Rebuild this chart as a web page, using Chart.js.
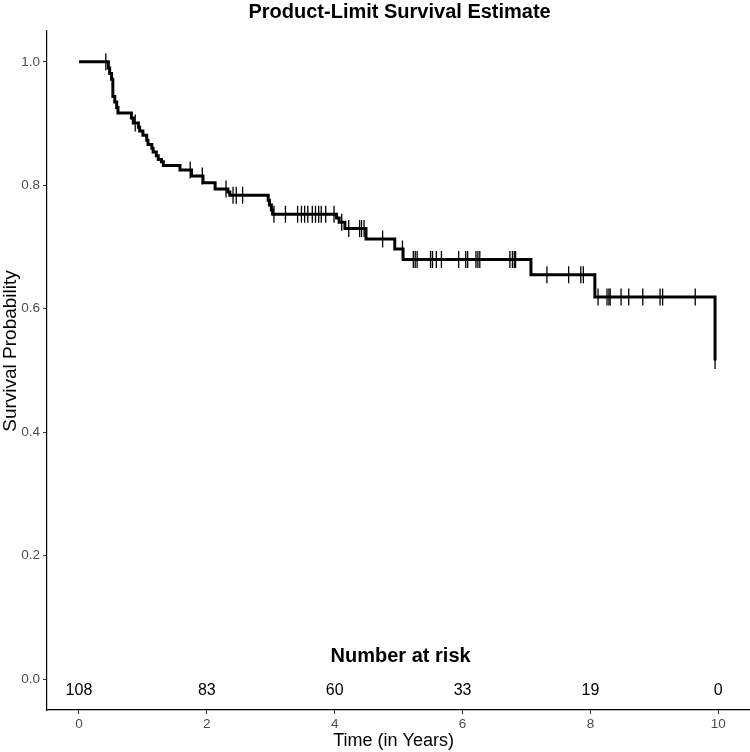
<!DOCTYPE html>
<html>
<head>
<meta charset="utf-8">
<title>Product-Limit Survival Estimate</title>
<script src="https://cdn.jsdelivr.net/npm/chart.js@4.4.1/dist/chart.umd.min.js"></script>
<style>
  html, body { margin: 0; padding: 0; background: #fff; overflow: hidden; }
  /* canvas is 10px wider than the view so the plot panel reaches the right edge */
  #wrap { width: 750px; height: 752px; overflow: hidden; }
</style>
</head>
<body>
<div id="wrap"><canvas id="km" width="760" height="752"></canvas></div>
<script>
  // KM step points: time (years) and survival after the event at that time
  var stepTimes = [0, 0.46, 0.48, 0.51, 0.53, 0.56, 0.59, 0.61,
    0.82, 0.85, 0.93, 0.95, 1.00, 1.06, 1.08, 1.14, 1.16, 1.21, 1.24, 1.29, 1.32,
    1.58, 1.76, 1.94, 2.13, 2.33, 2.36,
    2.96, 2.98, 3.01, 3.03,
    4.03, 4.07, 4.16, 4.49, 4.94, 5.07, 7.07, 8.07, 9.95];
  var stepSurv = [1.0, 0.990, 0.981, 0.972, 0.944, 0.935, 0.926, 0.917,
    0.909, 0.901, 0.894, 0.888, 0.881, 0.873, 0.866, 0.860, 0.854, 0.848, 0.842, 0.838, 0.832,
    0.825, 0.815, 0.804, 0.794, 0.789, 0.784,
    0.776, 0.768, 0.760, 0.753,
    0.747, 0.740, 0.730, 0.713, 0.697, 0.680, 0.655, 0.619, 0.516];

  // censored observations (years)
  var censorTimes = [0.42, 0.88, 1.74, 1.93, 2.30, 2.41, 2.46, 2.56,
    3.05, 3.23, 3.42, 3.48, 3.53, 3.58, 3.65, 3.70, 3.75, 3.79, 3.86, 3.99,
    4.11, 4.22, 4.39, 4.42, 4.46, 4.75, 5.06,
    5.23, 5.26, 5.29, 5.50, 5.53, 5.59, 5.67, 5.94, 6.05, 6.08, 6.21, 6.24, 6.27,
    6.74, 6.78, 6.81, 6.83,
    7.32, 7.66, 7.85, 7.89,
    8.12, 8.26, 8.29, 8.31, 8.48, 8.60, 8.82, 9.09, 9.13, 9.64, 9.95];

  var riskTimes = [0, 2, 4, 6, 8, 10];
  var riskCounts = [108, 83, 60, 33, 19, 0];
  var xTicks = [0, 2, 4, 6, 8, 10];
  var yTicks = [0, 0.2, 0.4, 0.6, 0.8, 1.0];

  var FONT = '"Liberation Sans", Arial, Helvetica, sans-serif';

  function survAt(t) {
    var s = 1;
    for (var i = 0; i < stepTimes.length; i++) {
      if (stepTimes[i] <= t) s = stepSurv[i];
    }
    return s;
  }

  var textPlugin = {
    id: 'kmText',
    afterDraw: function (chart) {
      var ctx = chart.ctx;
      var area = chart.chartArea;
      var xs = chart.scales.x;
      var cx = (area.left + area.right) / 2;
      ctx.save();
      ctx.fillStyle = '#000';
      ctx.textAlign = 'center';
      ctx.textBaseline = 'middle';

      ctx.font = 'bold 20px ' + FONT;
      ctx.fillText('Product-Limit Survival Estimate', cx + 1, 12);
      ctx.fillText('Number at risk', cx + 2, area.bottom - 54);

      ctx.font = '16px ' + FONT;
      riskTimes.forEach(function (t, i) {
        ctx.fillText(String(riskCounts[i]), xs.getPixelForValue(t), area.bottom - 19);
      });

      ctx.font = '18px ' + FONT;
      ctx.fillText('Time (in Years)', cx - 5, 741);

      ctx.font = '19px ' + FONT;
      ctx.translate(11, 351);
      ctx.rotate(-Math.PI / 2);
      ctx.fillText('Survival Probability', 0, 0);
      ctx.restore();
    }
  };

  new Chart(document.getElementById('km'), {
    type: 'scatter',
    data: {
      datasets: [{
        type: 'line',
        label: 'KM',
        data: stepTimes.map(function (t, i) { return { x: t, y: stepSurv[i] }; }),
        stepped: true,
        borderColor: '#000',
        borderWidth: 3,
        pointRadius: 0,
        fill: false
      }, {
        type: 'scatter',
        label: 'Censored',
        data: censorTimes.map(function (t) { return { x: t, y: survAt(t) }; }),
        pointStyle: 'line',
        rotation: 90,
        radius: 8.5,
        borderColor: '#000',
        borderWidth: 1.3
      }]
    },
    options: {
      responsive: false,
      animation: false,
      layout: { padding: { top: 31, right: 0, bottom: 0, left: 0 } },
      plugins: { legend: { display: false }, tooltip: { enabled: false } },
      scales: {
        x: {
          type: 'linear',
          min: -0.5,
          max: 10.5,
          afterBuildTicks: function (s) { s.ticks = xTicks.map(function (v) { return { value: v }; }); },
          afterFit: function (s) { s.height = 42; },
          ticks: { color: '#4d4d4d', font: { size: 13.5, family: FONT }, padding: 2, maxRotation: 0, autoSkip: false },
          grid: { drawOnChartArea: false, drawTicks: true, tickLength: 4, color: '#333' },
          border: { color: '#000', width: 1.2 }
        },
        y: {
          type: 'linear',
          min: -0.05,
          max: 1.05,
          afterBuildTicks: function (s) { s.ticks = yTicks.map(function (v) { return { value: v }; }); },
          afterFit: function (s) { s.width = 47; },
          ticks: {
            color: '#4d4d4d', font: { size: 13.5, family: FONT }, padding: 3, autoSkip: false,
            callback: function (v) { return v.toFixed(1); }
          },
          grid: { drawOnChartArea: false, drawTicks: true, tickLength: 4, color: '#333' },
          border: { color: '#000', width: 1.2 }
        }
      }
    },
    plugins: [textPlugin]
  });
</script>
</body>
</html>
